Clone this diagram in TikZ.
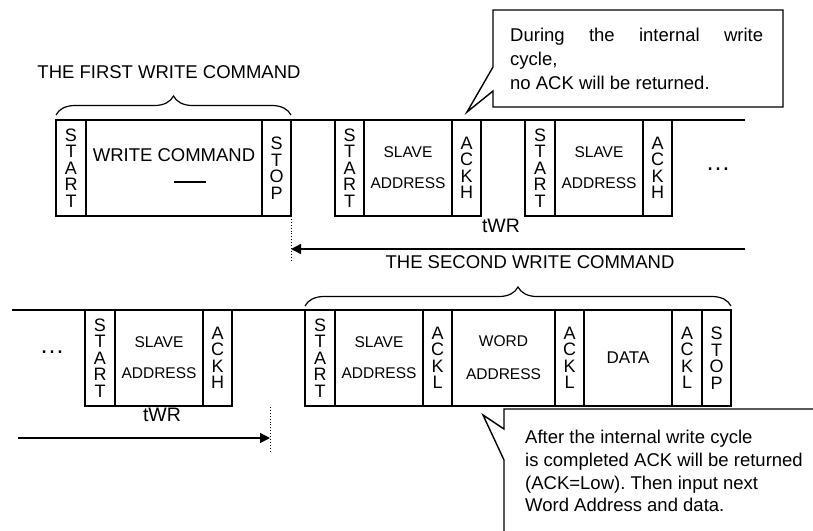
\documentclass[tikz,border=0pt]{standalone}
\usepackage{fontspec}
\setmainfont{Liberation Sans}
\usetikzlibrary{positioning, arrows.meta, decorations.pathreplacing}
\frenchspacing

\tikzset{
  cell/.style={draw, line width=1.4pt, minimum height=96pt, inner sep=0pt, outer sep=0pt},
  vtext/.style={align=center, font=\fontsize{18}{16.5}\selectfont},
  stext/.style={align=center, font=\fontsize{15.5}{31}\selectfont},
  big/.style={font=\fontsize{18.5}{22.7}\selectfont},
  bus/.style={line width=1.4pt},
  brc/.style={decorate, decoration={brace, amplitude=19pt}, line width=1.2pt},
  bubble/.style={fill=white, draw, line width=1.4pt},
  tip/.style={-{Triangle[length=10pt,width=10pt]}},
  dotsx/.style={font=\fontsize{25}{25}\selectfont},
}

\begin{document}
\begin{tikzpicture}[x=1pt, y=-1pt]
    \useasboundingbox (0,0) rectangle (813,530);
    \clip (0,0) rectangle (813,530);

    % 上の列
    \node[cell, vtext, minimum width=30pt, anchor=north west] (st1) at (56,120) {S\\T\\A\\R\\T};
    \node[cell, align=center, font=\fontsize{18.5}{25}\selectfont, minimum width=176pt, right=0pt of st1] (wc) {WRITE COMMAND\\\hspace*{32pt}\rule[4pt]{32pt}{1.6pt}};
    \node[cell, vtext, minimum width=29pt, right=0pt of wc] (sp1) {S\\T\\O\\P};
    \node[cell, vtext, minimum width=29pt, right=44pt of sp1] (st2) {S\\T\\A\\R\\T};
    \node[cell, stext, minimum width=88pt, right=0pt of st2] (sa1) {SLAVE\\ADDRESS};
    \node[cell, vtext, minimum width=29pt, right=0pt of sa1] (ah1) {A\\C\\K\\H};
    \node[cell, vtext, minimum width=30pt, right=44pt of ah1] (st3) {S\\T\\A\\R\\T};
    \node[cell, stext, minimum width=88pt, right=0pt of st3] (sa2) {SLAVE\\ADDRESS};
    \node[cell, vtext, minimum width=29pt, right=0pt of sa2] (ah2) {A\\C\\K\\H};
    \coordinate (end1) at (745,120);
    \draw[bus] (sp1.north east)--(st2.north west) (ah1.north east)--(st3.north west) (ah2.north east)--(end1);
    \node[dotsx] (dots1) at (718,169) {\ldots};

    \draw[brc] ([yshift=5pt]st1.north west)--([yshift=5pt]sp1.north east);
    \node[big] (first) at (169,72) {THE FIRST WRITE COMMAND};

    % tWR (上)
    \node[font=\fontsize{19.5}{20}\selectfont] (twr1) at (501,226) {tWR};
    \coordinate (ar1) at (745,249);
    \draw[dotted, line width=0.9pt] (sp1.south east)--++(0,44);
    \draw[bus, tip] (ar1)--(sp1.east |- ar1);
    \node[big] (second) at (530,262) {THE SECOND WRITE COMMAND};

    % 下の列
    \coordinate (beg2) at (12,310);
    \node[cell, vtext, minimum width=30pt, anchor=north west] (st4) at (85,310) {S\\T\\A\\R\\T};
    \node[cell, stext, minimum width=88pt, right=0pt of st4] (sa3) {SLAVE\\ADDRESS};
    \node[cell, vtext, minimum width=29pt, right=0pt of sa3] (ah3) {A\\C\\K\\H};
    \node[cell, vtext, minimum width=30pt, right=73pt of ah3] (st5) {S\\T\\A\\R\\T};
    \node[cell, stext, minimum width=88pt, right=0pt of st5] (sa4) {SLAVE\\ADDRESS};
    \node[cell, vtext, minimum width=29pt, right=0pt of sa4] (al1) {A\\C\\K\\L};
    \node[cell, align=center, font=\fontsize{15.5}{33}\selectfont, minimum width=103pt, right=0pt of al1] (wa) {WORD\\ADDRESS};
    \node[cell, vtext, minimum width=29pt, right=0pt of wa] (al2) {A\\C\\K\\L};
    \node[cell, font=\fontsize{17}{20}\selectfont, minimum width=88pt, right=0pt of al2] (dat) {DATA};
    \node[cell, vtext, minimum width=30pt, right=0pt of dat] (al3) {A\\C\\K\\L};
    \node[cell, vtext, minimum width=29pt, right=0pt of al3] (sp2) {S\\T\\O\\P};
    \draw[bus] (beg2)--(st4.north west) (ah3.north east)--(st5.north west);
    \node[dotsx] (dots2) at (52,352) {\ldots};

    \draw[brc] ([yshift=4pt]st5.north west)--([yshift=4pt]sp2.north east);

    % tWR (下)
    \node[font=\fontsize{19.5}{20}\selectfont] (twr2) at (162,415) {tWR};
    \coordinate (dt2) at (270,407);
    \coordinate (ar2) at (18,438);
    \draw[dotted, line width=0.9pt] (dt2)--++(0,46);
    \draw[bus, tip] (ar2)--(dt2 |- ar2);

    % 吹き出し
    \draw[bubble] (493,10)--(783,10)--(783,107)--(493,107)--(493,91)--(467,112)--(493,67)--cycle;
    \node[anchor=north west, inner sep=0pt, align=left, font=\fontsize{18.5}{24}\selectfont] (note1) at (510,28)
        {\makebox[253pt][s]{During the internal write}\\cycle,\\no ACK will be returned.};
    \draw[bubble] (504,409)--(840,409)--(840,545)--(504,545)--(504,460)--(483,415)--(504,429)--cycle;
    \node[anchor=north west, inner sep=0pt, align=left, font=\fontsize{18.5}{22.7}\selectfont] (note2) at (525,430)
        {After the internal write cycle\\is completed ACK will be returned\\(ACK=Low). Then input next\\Word Address and data.};
\end{tikzpicture}
\end{document}
